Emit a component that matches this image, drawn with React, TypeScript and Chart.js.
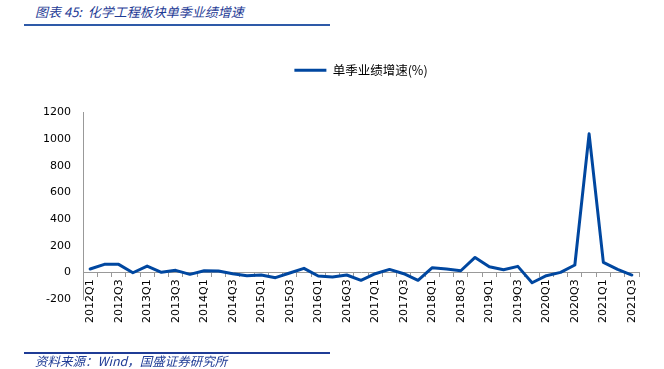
import React, { useEffect, useRef } from "react";
import { Chart, registerables } from "chart.js";

Chart.register(...registerables);

const quarters: string[] = [
  "2012Q1", "2012Q2", "2012Q3", "2012Q4",
  "2013Q1", "2013Q2", "2013Q3", "2013Q4",
  "2014Q1", "2014Q2", "2014Q3", "2014Q4",
  "2015Q1", "2015Q2", "2015Q3", "2015Q4",
  "2016Q1", "2016Q2", "2016Q3", "2016Q4",
  "2017Q1", "2017Q2", "2017Q3", "2017Q4",
  "2018Q1", "2018Q2", "2018Q3", "2018Q4",
  "2019Q1", "2019Q2", "2019Q3", "2019Q4",
  "2020Q1", "2020Q2", "2020Q3", "2020Q4",
  "2021Q1", "2021Q2", "2021Q3",
];

const growth: number[] = [
  25, 60, 60, -3,
  47, 0, 15, -15,
  12, 10, -10, -25,
  -20, -40, -5, 30,
  -27, -35, -20, -60,
  -10, 22, -10, -60,
  35, 25, 12, 112,
  42, 20, 45, -78,
  -25, 0, 55, 1040,
  75, 22, -20,
];

const seriesName = "单季业绩增速(%)";
const yMin = -200;
const yMax = 1200;
const yStep = 200;

const BLUE = "#0047A0";
const TEXT_BLUE = "#1F3C96";

const legendSpace = {
  id: "legendSpace",
  beforeLayout(chart: any) {
    const lg: any = chart.legend;
    if (lg && !lg._spacePatched) {
      const orig = lg.fit.bind(lg);
      lg.fit = function () {
        orig();
        this.height += 26;
      };
      lg._spacePatched = true;
    }
  },
};

export default function App() {
  const canvasRef = useRef<HTMLCanvasElement | null>(null);

  useEffect(() => {
    if (!canvasRef.current) return;
    const chart = new Chart(canvasRef.current, {
      type: "line",
      data: {
        labels: quarters,
        datasets: [
          {
            label: seriesName,
            data: growth,
            borderColor: BLUE,
            backgroundColor: BLUE,
            borderWidth: 3,
            borderJoinStyle: "round",
            borderCapStyle: "round",
            pointRadius: 0,
            tension: 0,
          },
        ],
      },
      plugins: [legendSpace],
      options: {
        responsive: false,
        animation: false,
        layout: { padding: { left: 0, right: 25, top: 54, bottom: 70 } },
        plugins: {
          legend: {
            display: true,
            position: "top",
            fullSize: false,
            labels: {
              boxWidth: 32,
              boxHeight: 3,
              padding: 10,
              color: "#000",
              font: { family: "'Noto Sans CJK SC', 'DejaVu Sans'", size: 12.5 },
              generateLabels: (c: any) =>
                Chart.defaults.plugins.legend.labels
                  .generateLabels(c)
                  .map((l: any) => ({ ...l, lineWidth: 0 })),
            },
          },
          tooltip: { enabled: false },
        },
        scales: {
          x: {
            type: "category",
            position: { y: 0 },
            offset: true,
            afterFit: (scale: any) => {
              scale.height = 0;
            },
            grid: {
              display: true,
              offset: true,
              drawOnChartArea: false,
              drawTicks: true,
              tickLength: 4,
              color: "#999",
            },
            border: { display: true, color: "#999", width: 1 },
            ticks: {
              autoSkip: false,
              minRotation: 90,
              maxRotation: 90,
              padding: 3,
              color: "#000",
              font: { family: "'DejaVu Sans'", size: 11 },
              callback: (_v: any, i: number) => (i % 2 === 0 ? quarters[i] : ""),
            },
          },
          y: {
            min: yMin,
            max: yMax,
            afterFit: (scale: any) => {
              scale.width = 83;
            },
            grid: { display: false, drawTicks: false },
            border: { display: true, color: "#999", width: 1 },
            ticks: {
              stepSize: yStep,
              padding: 12,
              color: "#000",
              font: { family: "'DejaVu Sans'", size: 11 },
              callback: (v: any) => String(v),
            },
          },
        },
      },
    });
    return () => chart.destroy();
  }, []);

  return (
    <div style={{ position: "absolute", left: 0, top: 0, width: 664, height: 369, background: "#fff" }}>
      <div
        style={{
          position: "absolute",
          left: 35,
          top: 3,
          fontFamily: "'Noto Sans CJK SC', 'DejaVu Sans'",
          fontStyle: "italic",
          fontSize: 13,
          lineHeight: "18px",
          color: TEXT_BLUE,
          whiteSpace: "nowrap",
        }}
      >
        图表 45:&nbsp;&nbsp;化学工程板块单季业绩增速
      </div>
      <div style={{ position: "absolute", left: 24, top: 24, width: 306, height: 2, background: "#2E5AA8" }} />
      <canvas ref={canvasRef} width={664} height={369} style={{ position: "absolute", left: 0, top: 0 }} />
      <div style={{ position: "absolute", left: 24, top: 352, width: 306, height: 1.5, background: "#1F3C96" }} />
      <div
        style={{
          position: "absolute",
          left: 35,
          top: 353,
          fontFamily: "'Noto Sans CJK SC', 'DejaVu Sans'",
          fontStyle: "italic",
          fontSize: 12.5,
          lineHeight: "16px",
          color: TEXT_BLUE,
          whiteSpace: "nowrap",
        }}
      >
        资料来源：Wind，国盛证券研究所
      </div>
    </div>
  );
}
